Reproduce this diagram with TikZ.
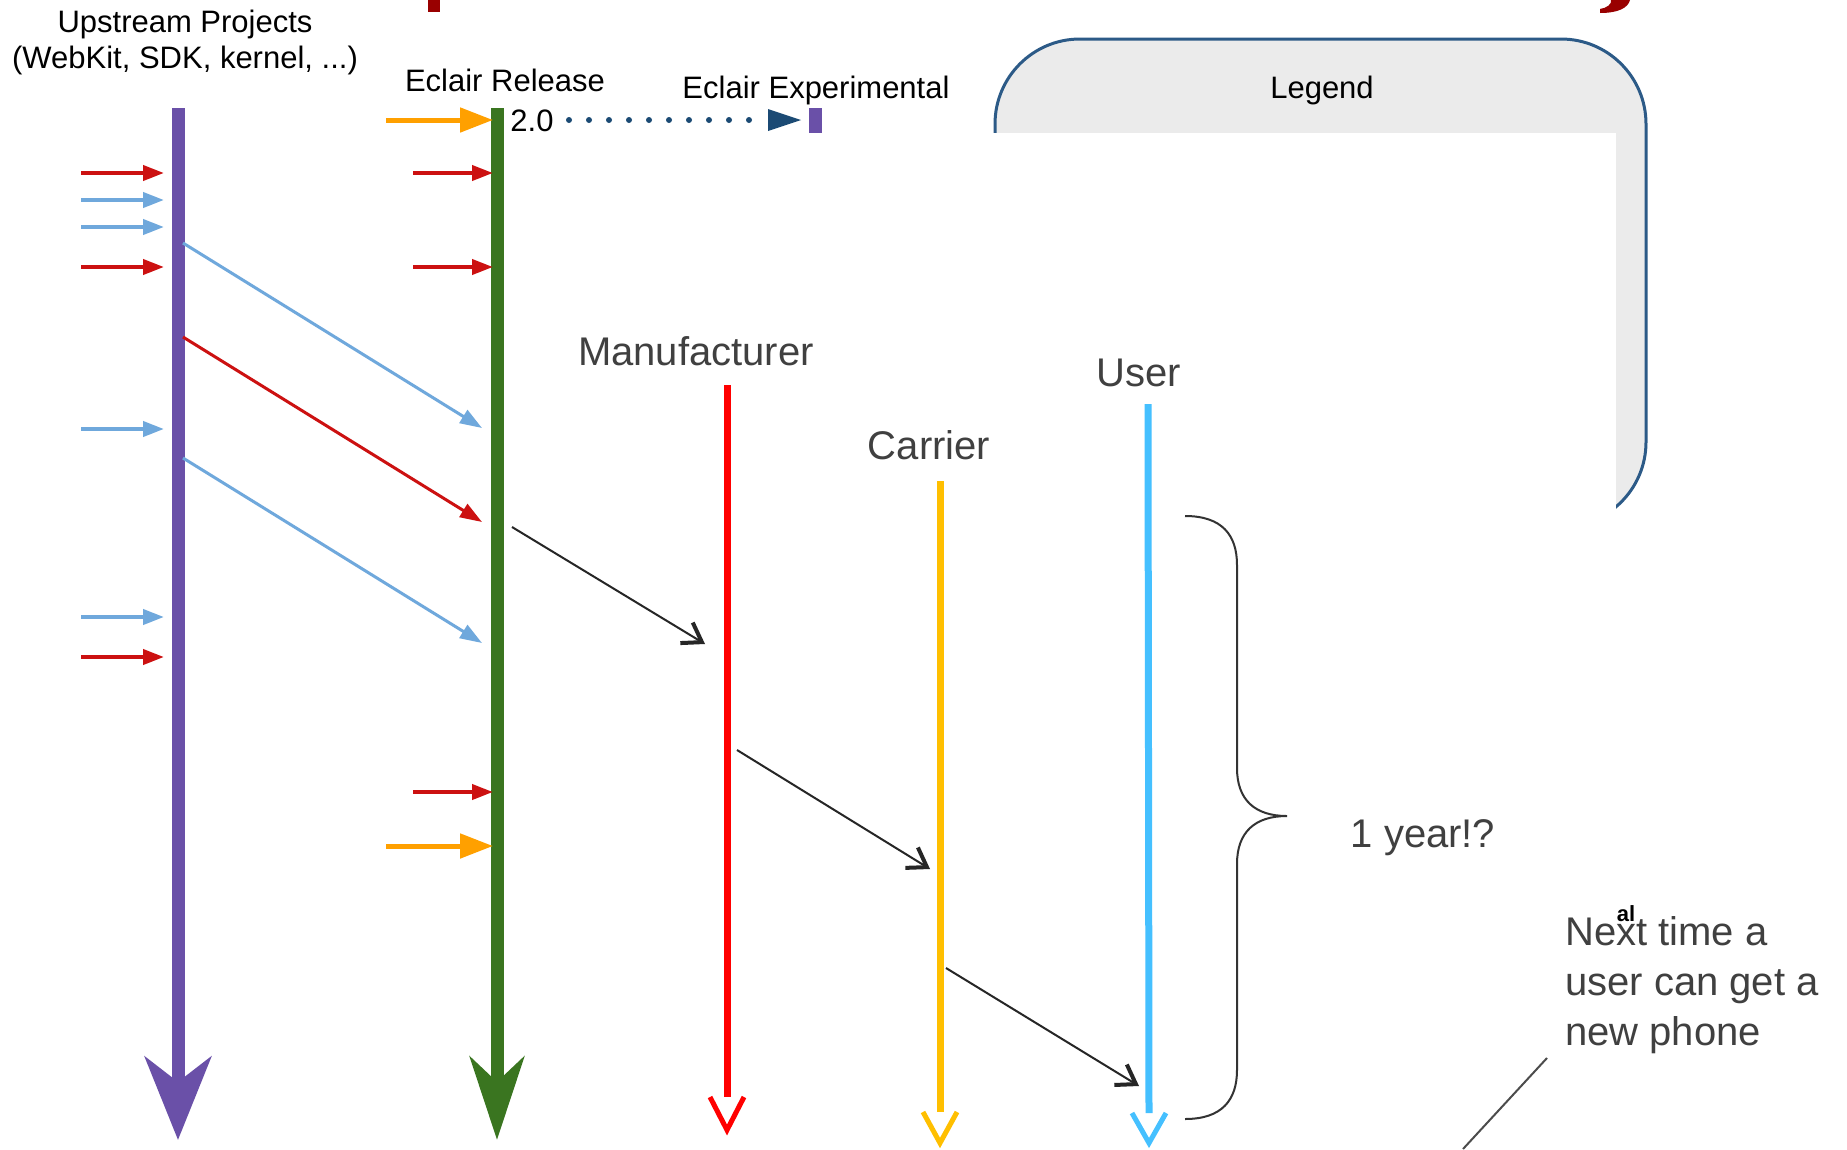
\documentclass[tikz,border=0pt]{standalone}
\usepackage{fontspec}
\setmainfont{Liberation Sans}
\usetikzlibrary{arrows.meta}
\definecolor{upviolet}{RGB}{106,80,168}
\definecolor{relgreen}{RGB}{58,117,32}
\definecolor{feedred}{RGB}{204,17,17}
\definecolor{feedblue}{RGB}{111,168,220}
\definecolor{feedorange}{RGB}{255,160,0}
\definecolor{mfred}{RGB}{255,0,0}
\definecolor{caryellow}{RGB}{255,191,0}
\definecolor{userblue}{RGB}{69,192,255}
\definecolor{dotnavy}{RGB}{27,74,116}
\definecolor{legendgray}{RGB}{235,235,235}
\definecolor{legendborder}{RGB}{44,90,135}
\definecolor{labelgray}{RGB}{64,64,64}
\definecolor{titlered}{RGB}{153,0,0}
\begin{document}
\begin{tikzpicture}[x=1pt,y=-1pt,
  blacklabel/.style={font=\fontsize{31}{36}\selectfont, text=black, inner sep=0pt, anchor=base},
  graylabel/.style={font=\fontsize{40}{48}\selectfont, text=labelgray, inner sep=0pt, anchor=base},
  notelabel/.style={font=\fontsize{40}{48}\selectfont, text=labelgray, inner sep=0pt, anchor=base west},
  feed/.style={line width=4pt, -{Triangle[length=21pt,width=15pt]}},
  bigfeed/.style={line width=5pt, draw=feedorange, -{Triangle[length=33pt,width=24pt]}},
  mainline/.style={line width=13pt},
  partyline/.style={line width=7pt},
  vhead/.style={line width=5pt, line join=miter},
  handoff/.style={line width=2pt, draw=black!85, -{Straight Barb[length=18pt,width=24pt,line width=4pt]}},
]
\useasboundingbox (0,0) rectangle (1847,1149);
\fill[white] (0,0) rectangle (1847,1149);

% title remnants
\fill[titlered] (428,0) rectangle (440,12);
\fill[titlered] (1611,0) -- (1630,0) .. controls (1628,8) and (1618,13) .. (1600,13) -- (1600,9) .. controls (1607,8) and (1612,4) .. (1611,0) -- cycle;

% legend
\draw[fill=legendgray, draw=legendborder, line width=3pt, rounded corners=85pt] (995,39) rectangle (1646,527);
\fill[white] (990,133) rectangle (1616,600);
\node[blacklabel] (legend) at (1322,98) {Legend};

% labels
\node[blacklabel] (up1) at (185,32) {Upstream Projects};
\node[blacklabel] (up2) at (185,68) {(WebKit, SDK, kernel, ...)};
\node[blacklabel] (rel) at (505,91) {Eclair Release};
\node[blacklabel] (exp) at (816,98) {Eclair Experimental};
\node[blacklabel] (two0) at (532,131) {2.0};

% experimental marker and dotted link
\node[fill=upviolet, minimum width=13pt, minimum height=25pt, inner sep=0pt] (expmark) at (815,120) {};
\coordinate (dotstart) at (569,120);
\coordinate (dottip) at (801,120);
\draw[dotnavy, line width=6pt, dash pattern=on 0pt off 20pt, line cap=round,
  -{Triangle[length=33pt,width=22pt,fill=dotnavy,line width=0pt]}] (dotstart) -- (dottip);

% main timelines
\coordinate (upTop) at (178,108);
\coordinate (upBot) at (178,1140);
\coordinate (relTop) at (497,108);
\coordinate (relBot) at (497,1140);
\draw[mainline, upviolet, -{Stealth[length=83pt,width=66pt,inset=25pt]}] (upTop) -- (upBot);
\draw[mainline, relgreen, -{Stealth[length=83pt,width=54pt,inset=25pt]}] (relTop) -- (relBot);

% feeders into upstream
\foreach \yy/\cc in {173/feedred,200/feedblue,227/feedblue,267/feedred,429/feedblue,617/feedblue,657/feedred}{
  \coordinate (ls\yy) at (81,\yy);
  \coordinate (lt\yy) at (164,\yy);
  \draw[feed, draw=\cc, fill=\cc] (ls\yy) -- (lt\yy);
}
% feeders into release
\foreach \yy in {173,267,792}{
  \coordinate (rs\yy) at (413,\yy);
  \coordinate (rt\yy) at (493,\yy);
  \draw[feed, draw=feedred, fill=feedred] (rs\yy) -- (rt\yy);
}
\foreach \yy in {120,846}{
  \coordinate (os\yy) at (386,\yy);
  \coordinate (ot\yy) at (493,\yy);
  \draw[bigfeed, fill=feedorange] (os\yy) -- (ot\yy);
}

% diagonal backports
\coordinate (d1s) at (183,243); \coordinate (d1e) at (482,428);
\coordinate (d2s) at (183,337); \coordinate (d2e) at (482,522);
\coordinate (d3s) at (183,458); \coordinate (d3e) at (482,643);
\draw[line width=3pt, draw=feedblue, fill=feedblue, -{Triangle[length=22pt,width=15pt]}] (d1s) -- (d1e);
\draw[line width=3pt, draw=feedred, fill=feedred, -{Triangle[length=22pt,width=15pt]}] (d2s) -- (d2e);
\draw[line width=3pt, draw=feedblue, fill=feedblue, -{Triangle[length=22pt,width=15pt]}] (d3s) -- (d3e);

% party timelines
\node[graylabel] (mf) at (696,365) {Manufacturer};
\node[graylabel] (car) at (929,459) {Carrier};
\node[graylabel] (usr) at (1139,386) {User};

\coordinate (mfTop) at (727,385); \coordinate (mfEnd) at (727,1097); \coordinate (mfTip) at (727,1130);
\draw[partyline, mfred] (mfTop) -- (mfEnd);
\draw[vhead, mfred] (710,1097) -- (mfTip) -- (744,1097);

\coordinate (carTop) at (940,481); \coordinate (carEnd) at (940,1112); \coordinate (carTip) at (940,1143);
\draw[partyline, caryellow] (carTop) -- (carEnd);
\draw[vhead, caryellow] (923,1112) -- (carTip) -- (957,1112);

\coordinate (usrTop) at (1148,404); \coordinate (usrEnd) at (1149,1113); \coordinate (usrTip) at (1149,1143);
\draw[partyline, userblue] (usrTop) -- (usrEnd);
\draw[vhead, userblue] (1132,1113) -- (usrTip) -- (1166,1113);

% hand-offs
\coordinate (h1s) at (512,527); \coordinate (h1e) at (705,644);
\coordinate (h2s) at (737,750); \coordinate (h2e) at (930,869);
\coordinate (h3s) at (946,968); \coordinate (h3e) at (1139,1086);
\draw[handoff] (h1s) -- (h1e);
\draw[handoff] (h2s) -- (h2e);
\draw[handoff] (h3s) -- (h3e);

% brace
\draw[line width=2pt, draw=black!80]
  (1185,516) .. controls (1222,516) and (1237,535) .. (1237,565) -- (1237,768)
  .. controls (1237,800) and (1255,816) .. (1287,816)
  .. controls (1255,816) and (1237,832) .. (1237,864) -- (1237,1070)
  .. controls (1237,1100) and (1222,1119) .. (1185,1119);
\node[graylabel] (year) at (1423,847) {1 year!?};

% note
\node[notelabel] (n1) at (1565,945) {Next time a};
\node[notelabel] (n2) at (1565,995) {user can get a};
\node[notelabel] (n3) at (1565,1045) {new phone};
\node[font=\fontsize{22}{24}\selectfont\bfseries, inner sep=0pt, anchor=base] (al) at (1626,921) {al};
\coordinate (ptrA) at (1547,1058);
\coordinate (ptrB) at (1463,1149);
\draw[line width=2pt, draw=black!70] (ptrA) -- (ptrB);
\end{tikzpicture}
\end{document}
